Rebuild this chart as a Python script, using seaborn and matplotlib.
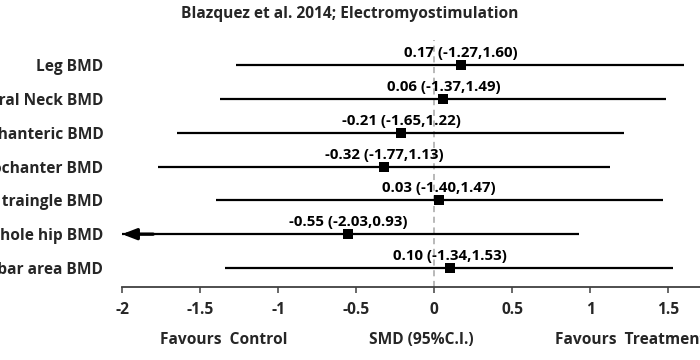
import matplotlib
matplotlib.use("Agg")
import matplotlib.pyplot as plt
import seaborn as sns
import pandas as pd

# data (top row first)
outcomes = ["Leg BMD", "Femoral Neck BMD", "Intertrochanteric BMD", "Trochanter BMD",
            "Wards traingle BMD", "Whole hip BMD", "Lumbar area BMD"]
smd = [0.17, 0.06, -0.21, -0.32, 0.03, -0.55, 0.10]
ci_low = [-1.27, -1.37, -1.65, -1.77, -1.40, -2.03, -1.34]
ci_high = [1.60, 1.49, 1.22, 1.13, 1.47, 0.93, 1.53]
xticks = [-2, -1.5, -1, -0.5, 0, 0.5, 1, 1.5]
xticklabels = ["-2", "-1.5", "-1", "-0.5", "0", "0.5", "1", "1.5"]

df = pd.DataFrame({"outcome": outcomes, "smd": smd, "lo": ci_low, "hi": ci_high})
df["row"] = list(range(len(df), 0, -1))

sns.set_theme(style="white")
plt.rcParams["font.family"] = ["Open Sans", "DejaVu Sans"]
plt.rcParams["font.weight"] = "bold"
FS = 11.2

fig = plt.figure(figsize=(7, 3.6), dpi=100)
# axes deliberately runs past the right edge (the original image is cropped)
ax = fig.add_axes([122 / 700, 1 - 287 / 360, (746 - 122) / 700, 247 / 360])
xmin, xmax = -2, 2
ax.set_xlim(xmin, xmax)
ax.set_ylim(1 - 19 / 33.83, 7 + 25 / 33.83)

ax.axvline(0, color="#a6a6a6", lw=1.1, ls=(0, (4, 3)), zorder=1)

for _, r in df.iterrows():
    lo = max(r["lo"], xmin)
    ax.hlines(r["row"], lo, r["hi"], color="black", lw=1.6, zorder=2)
    if r["lo"] < xmin:
        ax.annotate("", xy=(xmin, r["row"]), xytext=(xmin + 0.2, r["row"]),
                    arrowprops=dict(arrowstyle="-|>,head_length=0.7,head_width=0.27",
                                    color="black", lw=2.4, shrinkA=0, shrinkB=0),
                    zorder=3)
    ax.annotate(f"{r['smd']:.2f} ({r['lo']:.2f},{r['hi']:.2f})", (r["smd"], r["row"]),
                xytext=(0, 8.6), textcoords="offset points", ha="center", va="center",
                fontsize=10.8, fontweight="bold", color="black")

sns.scatterplot(data=df, x="smd", y="row", marker="s", s=62, color="black",
                edgecolor="black", linewidth=0, ax=ax, zorder=4, legend=False)

ax.set_yticks(df["row"])
ax.set_yticklabels(df["outcome"], fontsize=FS, fontweight="bold")
ax.tick_params(axis="y", length=0, pad=13.5)
ax.set_xticks(xticks)
ax.set_xticklabels(xticklabels, fontsize=FS, fontweight="bold")
ax.tick_params(axis="x", direction="out", length=4, width=1.1, color="#404040",
               bottom=True, pad=7)
for side in ["top", "right", "left"]:
    ax.spines[side].set_visible(False)
ax.spines["bottom"].set_color("#404040")
ax.spines["bottom"].set_linewidth(1.3)
ax.set_xlabel("")
ax.set_ylabel("")

fig.text(350 / 700, 1 - 14 / 360, "Blazquez et al. 2014; Electromyostimulation",
         ha="center", va="center", fontsize=FS, fontweight="bold")
fig.text(224 / 700, 1 - 340 / 360, "Favours  Control", ha="center", va="center",
         fontsize=FS, fontweight="bold")
fig.text(421 / 700, 1 - 340 / 360, "SMD (95%C.I.)", ha="center", va="center",
         fontsize=FS, fontweight="bold")
fig.text(555 / 700, 1 - 340 / 360, "Favours  Treatment", ha="left", va="center",
         fontsize=FS, fontweight="bold")

fig.savefig("out.png", dpi=100)
